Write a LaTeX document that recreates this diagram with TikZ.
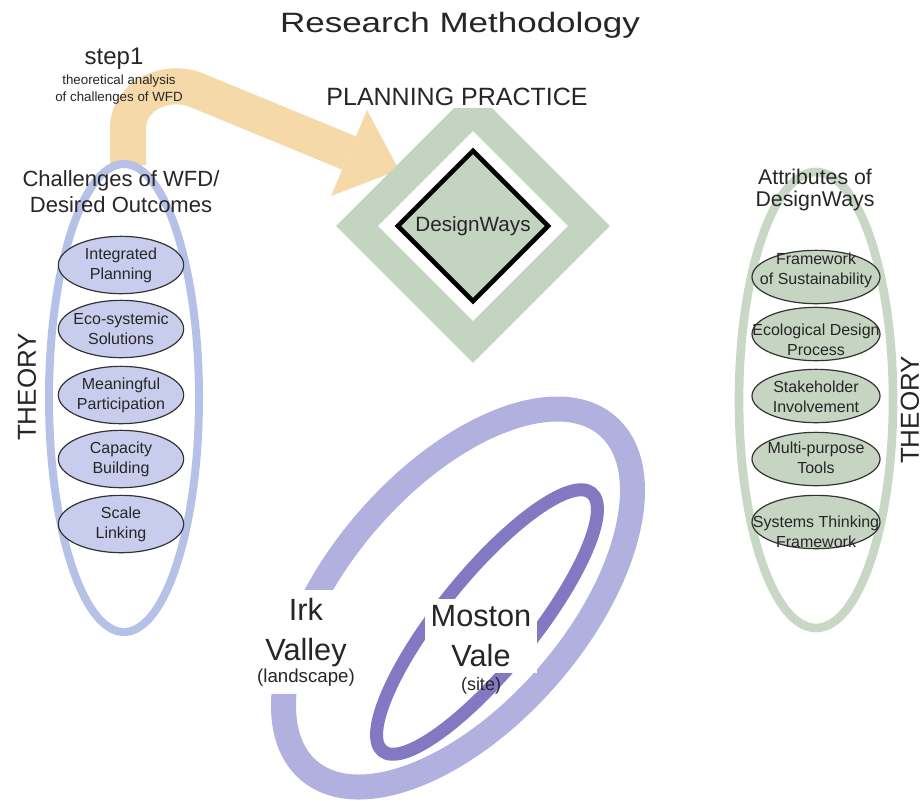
\documentclass[tikz,border=0pt]{standalone}
\usepackage{fontspec}
\setmainfont{Liberation Sans}
\newfontfamily\titlefont{Liberation Sans}[FakeStretch=1.25]
\usetikzlibrary{shapes.geometric}

\definecolor{txt}{HTML}{262626}
\definecolor{arroworange}{RGB}{245,217,168}
\definecolor{theoryblue}{RGB}{181,193,230}
\definecolor{itemblue}{RGB}{200,205,238}
\definecolor{sage}{RGB}{195,212,192}
\definecolor{ringsage}{RGB}{200,216,196}
\definecolor{itemsage}{RGB}{198,213,193}
\definecolor{ringlight}{RGB}{178,176,222}
\definecolor{ringdark}{RGB}{131,120,194}

\newcommand{\fs}[2]{\fontsize{#1}{#2}\selectfont}

\begin{document}
\begin{tikzpicture}[x=0.75pt,y=-0.75pt,
  every node/.style={text=txt, inner sep=0pt},
  itembox/.style={ellipse, draw=black!80, line width=0.9pt, inner sep=0pt},
  leftitem/.style={itembox, fill=itemblue, minimum width=94pt, minimum height=43pt},
  rightitem/.style={itembox, fill=itemsage, minimum width=96pt, minimum height=40pt},
  itemtext/.style={align=center, font=\fs{12}{15}},
  heading/.style={align=center, font=\fs{16.5}{19.5}},
  theory/.style={font=\fs{19.5}{22}, rotate=90}]
\useasboundingbox (0,0) rectangle (923,800);

% step 1 arrow: from the theory ellipse over to the planning practice diamond
\draw[arroworange, line width=27pt] (128,165) -- (128,128)
  .. controls (128,96) and (166,78) .. (196,90) -- (349,153);
\fill[arroworange] (367,110) -- (399,170) -- (331,196) -- cycle;

% theory ellipse (left)
\draw[theoryblue, line width=6pt] (124,398) ellipse (75 and 234);
\node[leftitem] (l1) at (121,265) {};
\node[leftitem] (l2) at (121,329) {};
\node[leftitem] (l3) at (121,395) {};
\node[leftitem] (l4) at (121,459) {};
\node[leftitem] (l5) at (121,524) {};
\node[itemtext] at (l1) {Integrated\\Planning};
\node[itemtext] at (l2) {Eco-systemic\\Solutions};
\node[itemtext] at (l3) {Meaningful\\Participation};
\node[itemtext] at (l4) {Capacity\\Building};
\node[itemtext] at (l5) {Scale\\Linking};

% attributes ellipse (right)
\draw[ringsage, line width=6.5pt] (816,400) ellipse (77 and 228);
\node[rightitem] (r1) at (816,277) {};
\node[rightitem] (r2) at (816,334) {};
\node[rightitem] (r3) at (816,396) {};
\node[rightitem] (r4) at (816,459) {};
\node[rightitem] (r5) at (816,522) {};
\node[itemtext] (r1t) at (816,270) {Framework\\of Sustainability};
\node[itemtext] (r2t) at (816,340) {Ecological Design\\Process};
\node[itemtext] (r3t) at (816,397) {Stakeholder\\Involvement};
\node[itemtext] (r4t) at (816,458) {Multi-purpose\\Tools};
\node[itemtext] (r5t) at (816,532) {Systems Thinking\\Framework};

% planning practice diamond
\node[diamond, fill=sage, minimum width=205.5pt, minimum height=205.5pt] (dout) at (473,226) {};
\node[diamond, fill=white, minimum width=142.5pt, minimum height=142.5pt] (dmid) at (473,226) {};
\node[diamond, fill=sage, draw=black, line width=3.4pt, minimum width=114pt,
      minimum height=114pt, font=\fs{15.5}{18}] (dw) at (473,226) {DesignWays};

% landscape and site rings
\draw[ringlight, line width=18.75pt, rotate around={49:(458,598)}] (458,598) ellipse (228 and 119);
\draw[ringdark, line width=9.75pt, rotate around={51:(487,622)}] (487,622) ellipse (166 and 46);

% labels
\node[font=\titlefont\fs{21}{25}, anchor=base] (title) at (460,32) {Research Methodology};
\node[font=\fs{18}{20}, anchor=base] (step) at (114,64) {step1};
\node[align=center, font=\fs{10}{12.75}] (stepnote) at (119,90) {theoretical analysis\\of challenges of WFD};
\node[fill=white, inner sep=2pt, font=\fs{18.75}{22}, anchor=base] (pp) at (457,105) {PLANNING PRACTICE};
\node[heading] (chal) at (121,192) {Challenges of WFD/\\Desired Outcomes};
\node[align=center, font=\fs{16}{16.5}] (attr) at (815,190) {Attributes of\\DesignWays};
\node[theory] (theoryL) at (27,387) {THEORY};
\node[theory] (theoryR) at (910,410) {THEORY};
\node[fill=white, inner sep=6pt, align=center, font=\fs{23}{30}] (irk) at (306,642)
  {Irk\\Valley\\[-13.5pt]{\fs{14}{16}(landscape)}};
\node[fill=white, inner sep=4.5pt, align=center, font=\fs{23}{30}] (moston) at (481,636) {Moston\\Vale};
\node[font=\fs{13.5}{16}, anchor=base] (site) at (481,690) {(site)};
\end{tikzpicture}
\end{document}
